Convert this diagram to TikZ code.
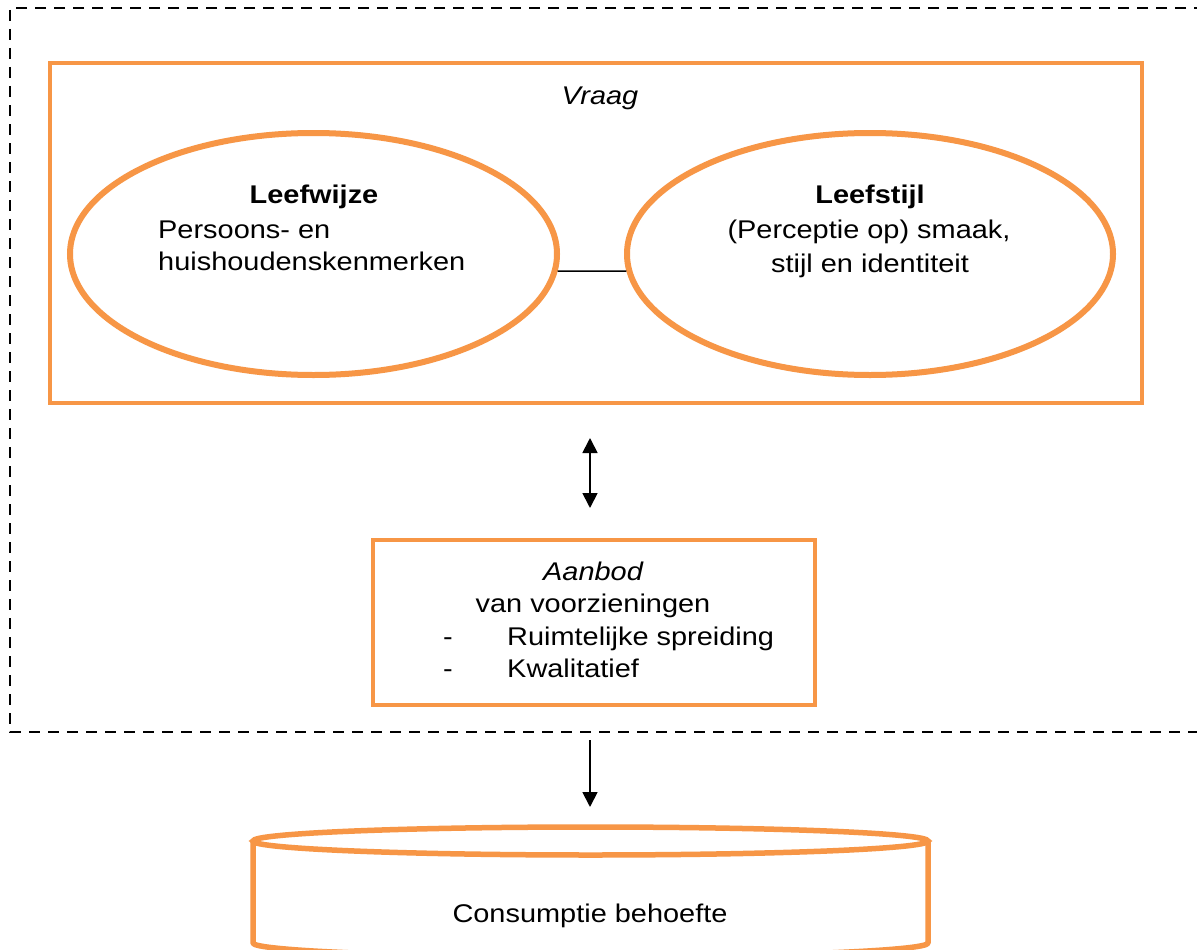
\documentclass[tikz,border=0pt]{standalone}
\usepackage{fontspec}
\setmainfont{Liberation Sans}[FakeStretch=1.13]
\usetikzlibrary{arrows.meta,shapes.geometric}
\definecolor{boxorange}{HTML}{F79646}
\begin{document}
\begin{tikzpicture}[x=1pt,y=-1pt,
  txt/.style={inner sep=0pt,anchor=base,font=\fontsize{25.6}{33}\selectfont},
  obox/.style={draw=boxorange,line width=4.5pt,rectangle,inner sep=0pt},
  oell/.style={draw=boxorange,line width=6pt,ellipse,inner sep=0pt},
  arr/.style={line width=1.8pt,-{Triangle[width=15pt,length=15pt]}},
  darr/.style={line width=1.8pt,{Triangle[width=15pt,length=15pt]}-{Triangle[width=15pt,length=15pt]}},
  dashbox/.style={line width=2.5pt,dash pattern=on 11pt off 8pt}]
\clip (0,0) rectangle (1197,950);
\fill[white] (0,0) rectangle (1197,950);
% dashed frame (open on the right)
\draw[dashbox] (1205,8) -- (10,8) -- (10,732) -- (1205,732);
% Vraag box
\node[obox,minimum width=1092pt,minimum height=340pt] (vraag) at (596,233) {};
\node[txt,font=\fontsize{25.6}{33}\selectfont\itshape] (vraagt) at (600,104) {Vraag};
% ellipses
\node[oell,minimum width=487pt,minimum height=242pt] (lw) at (313.5,254) {};
\node[oell,minimum width=486pt,minimum height=242pt] (ls) at (870,254) {};
\node[txt,font=\fontsize{25.6}{33}\selectfont\bfseries] (lwt) at (314,203) {Leefwijze};
\node[txt,anchor=base west] (lw1) at (158,238) {Persoons- en};
\node[txt,anchor=base west] (lw2) at (158,270) {huishoudenskenmerken};
\node[txt,font=\fontsize{25.6}{33}\selectfont\bfseries] (lst) at (870,203) {Leefstijl};
\node[txt] (ls1) at (869,238) {(Perceptie op) smaak,};
\node[txt] (ls2) at (870,272) {stijl en identiteit};
\draw[line width=1.5pt] (lw.-4.5) -- (ls.184.5);
% double arrow
\coordinate (d1) at (590,438);
\coordinate (d2) at (590,508);
\draw[darr] (d1) -- (d2);
% Aanbod box
\node[obox,minimum width=442pt,minimum height=165pt] (aanbod) at (594,622.5) {};
\node[txt,font=\fontsize{25.6}{33}\selectfont\itshape] (aant) at (593,580) {Aanbod};
\node[txt] (aan1) at (593,612) {van voorzieningen};
\node[txt] (dash1) at (448,645) {-};
\node[txt,anchor=base west] (aan2) at (507,645) {Ruimtelijke spreiding};
\node[txt] (dash2) at (448,677) {-};
\node[txt,anchor=base west] (aan3) at (507,677) {Kwalitatief};
% down arrow
\coordinate (e1) at (590,740);
\coordinate (e2) at (590,807);
\draw[arr] (e1) -- (e2);
% cylinder
\draw[boxorange,line width=5.5pt,line join=round]
  (253,841) -- (253,943) arc[start angle=180,end angle=360,x radius=337.5pt,y radius=14pt] -- (928,841);
\draw[boxorange,line width=5.5pt] (590.5,841) ellipse[x radius=337.5pt,y radius=14pt];
\node[txt] (cons) at (590,922) {Consumptie behoefte};
\end{tikzpicture}
\end{document}
